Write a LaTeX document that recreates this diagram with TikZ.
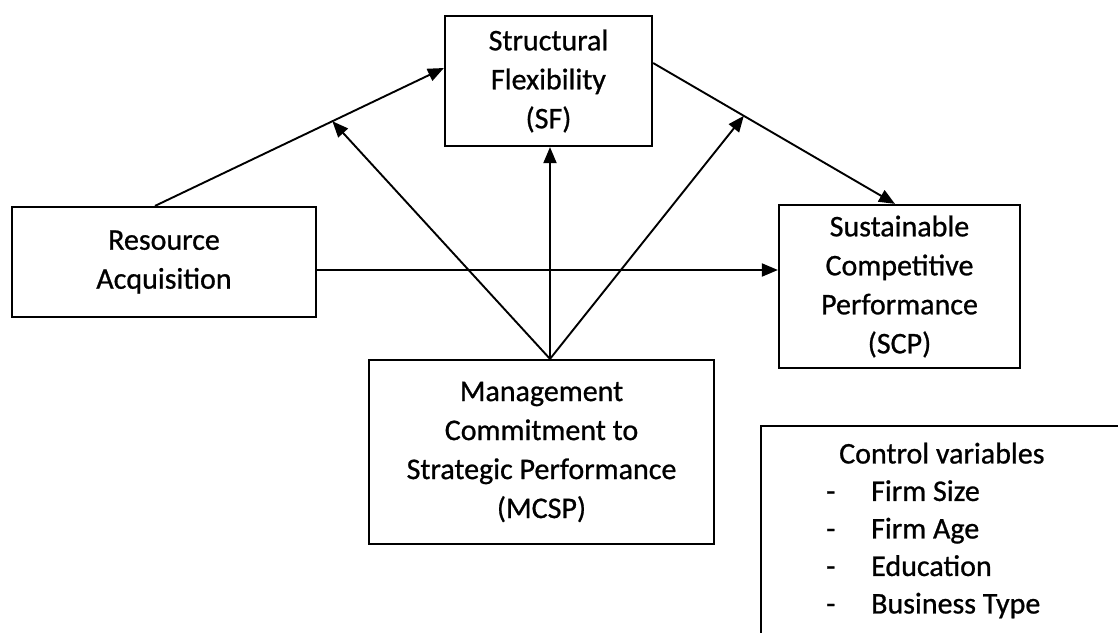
\documentclass[tikz,border=0pt]{standalone}
\usepackage{fontspec}
\setmainfont{Carlito}[FakeBold=0.8]
\usetikzlibrary{arrows.meta,calc}
\begin{document}
\begin{tikzpicture}[x=1pt,y=-1pt,
  box/.style={draw,line width=2.2pt,rectangle,inner sep=0pt,align=center,
    font=\fontsize{30}{39}\selectfont},
  conn/.style={line width=1.9pt,-{Triangle[length=16pt,width=13pt]}},
  plain/.style={line width=1.9pt}]
\useasboundingbox (0,0) rectangle (1118,632);
\node[box,minimum width=207pt,minimum height=130pt] (SF) at (548.5,81) {Structural\\Flexibility\\(SF)};
\node[box,minimum width=304pt,minimum height=110pt] (RA) at (164,262) {Resource\\Acquisition};
\node[box,minimum width=241pt,minimum height=163pt] (SCP) at (899.5,286.5) {Sustainable\\Competitive\\Performance\\(SCP)};
\node[box,minimum width=345pt,minimum height=184pt] (MCSP) at (541.5,452) {Management\\Commitment to\\Strategic Performance\\(MCSP)};
\node[draw,line width=2.2pt,rectangle,minimum width=380pt,minimum height=240pt,anchor=north west] (CV) at (760,425) {};
\node[anchor=north west,inner sep=0pt,align=left,font=\fontsize{30}{37.5}\selectfont] (CVT) at (826,437)
 {\begin{tabular}{@{}p{45pt}@{}l@{}}
  \multicolumn{2}{@{}l@{}}{\hspace{13pt}Control variables}\\
  - & Firm Size\\
  - & Firm Age\\
  - & Education\\
  - & Business Type
  \end{tabular}};
% connectors
\coordinate (a1) at ([xshift=-9pt]RA.north);
\coordinate (a2) at ([yshift=13pt]SF.west);
\draw[conn] (a1) -- (a2);
\coordinate (b1) at ([yshift=18pt]SF.east);
\coordinate (b2) at ([xshift=-4.5pt]SCP.north);
\draw[conn] (b1) -- (b2);
\coordinate (c1) at ([yshift=-8pt]RA.east);
\draw[conn] (c1) -- (c1 -| SCP.west);
\coordinate (m0) at ([xshift=8.5pt]MCSP.north);
\coordinate (t1) at ($(a1)!0.614!(a2)$);
\coordinate (t2) at ($(b1)!0.375!(b2)$);
\draw[conn] (m0) -- (t1);
\draw[conn] (m0) -- (m0 |- SF.south);
\draw[conn] (m0) -- (t2);
\end{tikzpicture}
\end{document}
